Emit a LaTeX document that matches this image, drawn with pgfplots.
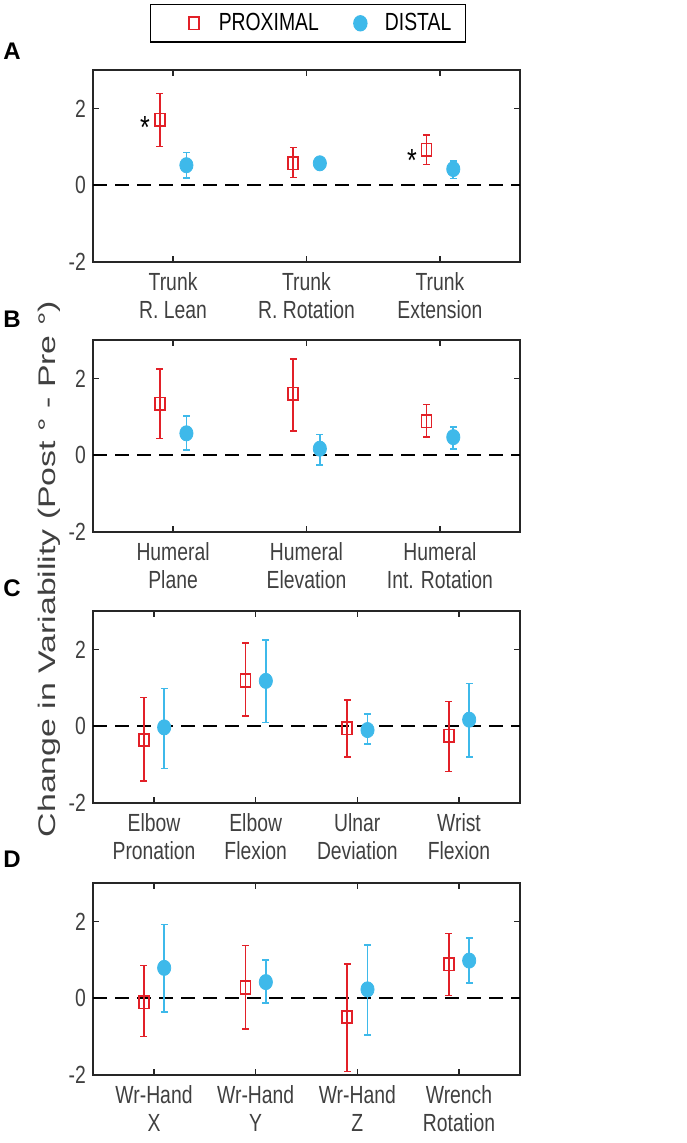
\documentclass[border=0pt]{standalone}
\usepackage{fontspec}
\setmainfont{Liberation Sans}[FakeStretch=0.78]
\newfontfamily\ylabfont{Liberation Sans}[FakeStretch=1.41]
\newfontfamily\letterfont{Liberation Sans}
\usepackage{pgfplots}
\usepackage{pgfplotstable}
\pgfplotsset{compat=1.18}

\definecolor{proxred}{RGB}{226,32,40}
\definecolor{distblue}{RGB}{62,185,234}
\definecolor{axgray}{RGB}{38,38,38}
\definecolor{txtgray}{RGB}{64,64,64}
\newcommand\tickfont{\fontsize{12.4}{14}\selectfont}

% x = category position +- 0.1, y = mean, ep/em = upper/lower error
\pgfplotstableread{
x y ep em
0.9 1.70 0.69 0.69
1.9 0.57 0.41 0.37
2.9 0.92 0.39 0.38
}\proxA
\pgfplotstableread{
x y ep em
1.1 0.52 0.33 0.34
2.1 0.57 0.15 0.15
3.1 0.42 0.21 0.25
}\distA
\pgfplotstableread{
x y ep em
0.9 1.34 0.91 0.91
1.9 1.60 0.90 0.97
2.9 0.88 0.44 0.41
}\proxB
\pgfplotstableread{
x y ep em
1.1 0.57 0.45 0.44
2.1 0.17 0.37 0.43
3.1 0.47 0.26 0.31
}\distB
\pgfplotstableread{
x y ep em
0.9 -0.36 1.11 1.06
1.9 1.19 0.97 0.93
2.9 -0.05 0.74 0.75
3.9 -0.25 0.89 0.93
}\proxC
\pgfplotstableread{
x y ep em
1.1 -0.03 1.01 1.07
2.1 1.18 1.07 1.08
3.1 -0.10 0.42 0.37
4.1 0.17 0.94 0.97
}\distC
\pgfplotstableread{
x y ep em
0.9 -0.10 0.95 0.90
1.9 0.28 1.09 1.08
2.9 -0.49 1.38 1.42
3.9 0.88 0.81 0.81
}\proxD
\pgfplotstableread{
x y ep em
1.1 0.79 1.13 1.15
2.1 0.42 0.57 0.55
3.1 0.23 1.15 1.19
4.1 0.98 0.59 0.58
}\distD

\pgfplotsset{
  panel/.style={
    scale only axis, width=213.5pt, height=96pt, anchor=north west,
    ymin=-2, ymax=3, ytick={-2,0,2}, yticklabels={-2,0,2},
    xmin=0.4,
    axis line style={axgray, line width=0.6pt},
    tick style={axgray, line width=0.6pt},
    major tick length=3pt, tick align=inside, tick pos=both,
    tick label style={font=\tickfont, text=txtgray},
    xticklabel style={align=center, yshift=-1.5pt},
    clip=false,
  },
  proxplot/.style={
    only marks, mark=square, mark size=2.5pt, proxred, forget plot,
    mark options={fill=white, line width=0.8pt, yscale=1.25},
    error bars/.cd, y dir=both, y explicit,
    error bar style={line width=0.8pt, proxred},
    error mark options={rotate=90, mark size=1.7pt, line width=0.8pt, proxred},
  },
  distplot/.style={
    only marks, mark=*, mark size=3.3pt, distblue, forget plot,
    mark options={yscale=1.15},
    error bars/.cd, y dir=both, y explicit,
    error bar style={line width=0.8pt, distblue},
    error mark options={rotate=90, mark size=1.7pt, line width=0.8pt, distblue},
  },
  zeroline/.style={black, line width=0.9pt, dash pattern=on 7pt off 4pt, forget plot},
}

\begin{document}
\begin{tikzpicture}
\useasboundingbox (0,0) rectangle (343pt,-571.5pt);

% A
\begin{axis}[panel, at={(46.5pt,-35pt)}, xmax=3.6, xtick={1,2,3},
  xticklabels={{Trunk\\R. Lean},{Trunk\\R. Rotation},{Trunk\\Extension}},
  legend style={at={(0.1335,1.344)}, anchor=north west, draw=black, line width=0.6pt,
    inner xsep=7pt, inner ysep=4.3pt, font=\tickfont, legend columns=2,
    nodes={inner sep=0pt}, /tikz/every even column/.append style={column sep=6pt}},
  legend image code/.code={\path (0pt,0pt) (26.5pt,0pt); \draw[#1] plot coordinates {(14.5pt,0pt)};},
]
\addplot[zeroline] coordinates {(0.4,0) (3.6,0)};
\addplot[proxplot] table[x=x, y=y, y error plus=ep, y error minus=em] {\proxA};
\addplot[distplot] table[x=x, y=y, y error plus=ep, y error minus=em] {\distA};
\addlegendimage{only marks, mark=square, mark size=2.5pt, proxred, mark options={fill=white, line width=0.8pt, yscale=1.25}}
\addlegendentry{PROXIMAL}
\addlegendimage{only marks, mark=*, mark size=3.3pt, distblue, mark options={yscale=1.15}}
\addlegendentry{DISTAL}
\node[anchor=base, inner sep=0pt, font=\fontsize{16}{16}\selectfont] at (axis cs:0.79,1.21) {*};
\node[anchor=base, inner sep=0pt, font=\fontsize{16}{16}\selectfont] at (axis cs:2.79,0.36) {*};
\end{axis}

% B
\begin{axis}[panel, at={(46.5pt,-170pt)}, xmax=3.6, xtick={1,2,3},
  xticklabels={{Humeral\\Plane},{Humeral\\Elevation},{Humeral\\Int. Rotation}}]
\addplot[zeroline] coordinates {(0.4,0) (3.6,0)};
\addplot[proxplot] table[x=x, y=y, y error plus=ep, y error minus=em] {\proxB};
\addplot[distplot] table[x=x, y=y, y error plus=ep, y error minus=em] {\distB};
\end{axis}

% C
\begin{axis}[panel, at={(46.5pt,-305.5pt)}, xmax=4.6, xtick={1,2,3,4},
  xticklabels={{Elbow\\Pronation},{Elbow\\Flexion},{Ulnar\\Deviation},{Wrist\\Flexion}}]
\addplot[zeroline] coordinates {(0.4,0) (4.6,0)};
\addplot[proxplot] table[x=x, y=y, y error plus=ep, y error minus=em] {\proxC};
\addplot[distplot] table[x=x, y=y, y error plus=ep, y error minus=em] {\distC};
\end{axis}

% D
\begin{axis}[panel, at={(46.5pt,-441.5pt)}, xmax=4.6, xtick={1,2,3,4},
  xticklabels={{Wr-Hand\\X},{Wr-Hand\\Y},{Wr-Hand\\Z},{Wrench\\Rotation}}]
\addplot[zeroline] coordinates {(0.4,0) (4.6,0)};
\addplot[proxplot] table[x=x, y=y, y error plus=ep, y error minus=em] {\proxD};
\addplot[distplot] table[x=x, y=y, y error plus=ep, y error minus=em] {\distD};
\end{axis}

% panel letters and shared y label
\begin{scope}[every node/.style={anchor=base west, inner sep=0pt, font=\letterfont\bfseries\fontsize{12}{14}\selectfont}]
\node at (1.5pt,-30pt) {A};
\node at (1.5pt,-164pt) {B};
\node at (1.5pt,-298pt) {C};
\node at (1.5pt,-433.5pt) {D};
\end{scope}
\node[rotate=90, inner sep=0pt, text=txtgray, font=\ylabfont\fontsize{12}{14}\selectfont]
  at (24.5pt,-284.5pt) {Change in Variability (Post ° - Pre °)};
\end{tikzpicture}
\end{document}
